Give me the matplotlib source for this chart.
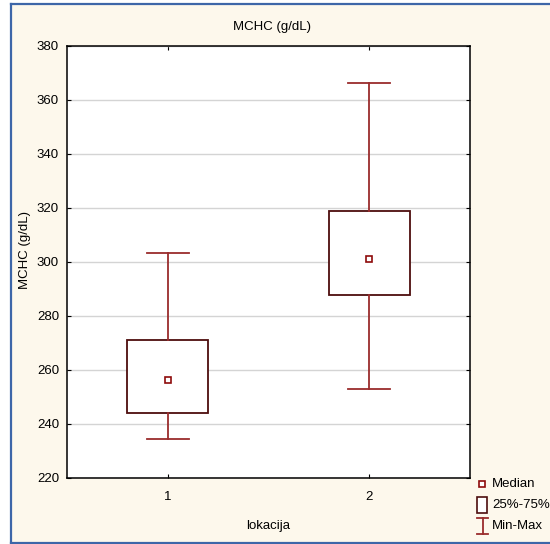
import matplotlib as mpl
import matplotlib.pyplot as plt
from matplotlib import font_manager
from matplotlib.lines import Line2D
from matplotlib.patches import Rectangle

# summary statistics per location
groups = ["1", "2"]
minimum = [234.3, 252.9]
q1 = [244.0, 287.7]
median = [256.2, 301.1]
q3 = [271.2, 318.8]
maximum = [303.3, 366.3]

y_ticks = [220, 240, 260, 280, 300, 320, 340, 360, 380]
legend_labels = ["Median", "25%-75%", "Min-Max"]

W, H = 550, 544
BG = "#fdf8ec"
BORDER = "#3d66a8"
BOX_EDGE = "#4d0d0d"
WHISKER = "#9a2c2c"
MED = "#8e0b0b"

installed = {f.name for f in font_manager.fontManager.ttflist}
if "Liberation Sans Narrow" in installed:
    family, fs = "Liberation Sans Narrow", 10
else:
    family, fs = "Liberation Sans", 9.5
plt.rcParams["font.family"] = family
plt.rcParams["font.size"] = fs


def fx(x):
    return x / W


def fy(y):
    return 1 - y / H


fig = plt.figure(figsize=(W / 100, H / 100), dpi=100, facecolor="white")

# cream panel with blue frame on left, top and bottom
fig.add_artist(Rectangle((fx(11), fy(543)), fx(W - 11), fy(4) - fy(543),
                         transform=fig.transFigure, facecolor=BG, edgecolor="none", zorder=0))
for xs, ys in [((11, 11), (4, 543)), ((11, W), (4, 4)), ((11, W), (543, 543))]:
    fig.add_artist(Line2D([fx(x) for x in xs], [fy(y) for y in ys],
                          transform=fig.transFigure, color=BORDER, lw=1.6, zorder=1))

ax = fig.add_axes([fx(67), fy(478), fx(470) - fx(67), fy(46) - fy(478)])
ax.set_facecolor("white")

stats = [
    {"whislo": lo, "q1": a, "med": m, "q3": b, "whishi": hi, "label": g}
    for g, lo, a, m, b, hi in zip(groups, minimum, q1, median, q3, maximum)
]
positions = list(range(1, len(groups) + 1))
ax.bxp(
    stats,
    positions=positions,
    widths=0.4,
    capwidths=0.21,
    showfliers=False,
    patch_artist=True,
    boxprops=dict(facecolor="white", edgecolor=BOX_EDGE, lw=1.3),
    whiskerprops=dict(color=WHISKER, lw=1.3),
    capprops=dict(color=WHISKER, lw=1.3),
    medianprops=dict(visible=False),
    zorder=3,
)
ax.plot(positions, median, ls="none", marker="s", ms=4.2, mfc="white",
        mec=MED, mew=1.2, zorder=4)

ax.set_xlim(0.5, 2.5)
ax.set_ylim(220, 380)
ax.set_yticks(y_ticks)
ax.set_xticks(positions)
ax.set_xticklabels(groups)
ax.yaxis.grid(True, color="#d4d4d4", lw=1)
ax.set_axisbelow(True)
for s in ax.spines.values():
    s.set_linewidth(1.1)
ax.tick_params(direction="in", length=3, width=0.8, top=True, right=True)
ax.tick_params(axis="y", pad=5.8)
ax.tick_params(axis="x", pad=9)

fig.text(fx(272), fy(27), "MCHC (g/dL)", ha="center", va="center")
fig.text(fx(25), fy(250), "MCHC (g/dL)", rotation=90, ha="center", va="center")
fig.text(fx(268.5), fy(526), "lokacija", ha="center", va="center")

# legend symbols
fig.add_artist(Line2D([fx(482)], [fy(484)], transform=fig.transFigure, ls="none",
                      marker="s", ms=4.2, mfc="white", mec=MED, mew=1.2))
fig.add_artist(Rectangle((fx(477), fy(513)), fx(10), fy(497) - fy(513),
                         transform=fig.transFigure, facecolor="white",
                         edgecolor=BOX_EDGE, lw=1.2))
fig.add_artist(Line2D([fx(482.5), fx(482.5)], [fy(518), fy(534)],
                      transform=fig.transFigure, color=WHISKER, lw=1.3))
for yy in (518, 534):
    fig.add_artist(Line2D([fx(477), fx(488)], [fy(yy), fy(yy)],
                          transform=fig.transFigure, color=WHISKER, lw=1.3))
for label, yy in zip(legend_labels, (484, 505, 526)):
    fig.text(fx(492), fy(yy), label, ha="left", va="center")

fig.savefig("out.png", dpi=100, facecolor=fig.get_facecolor())
